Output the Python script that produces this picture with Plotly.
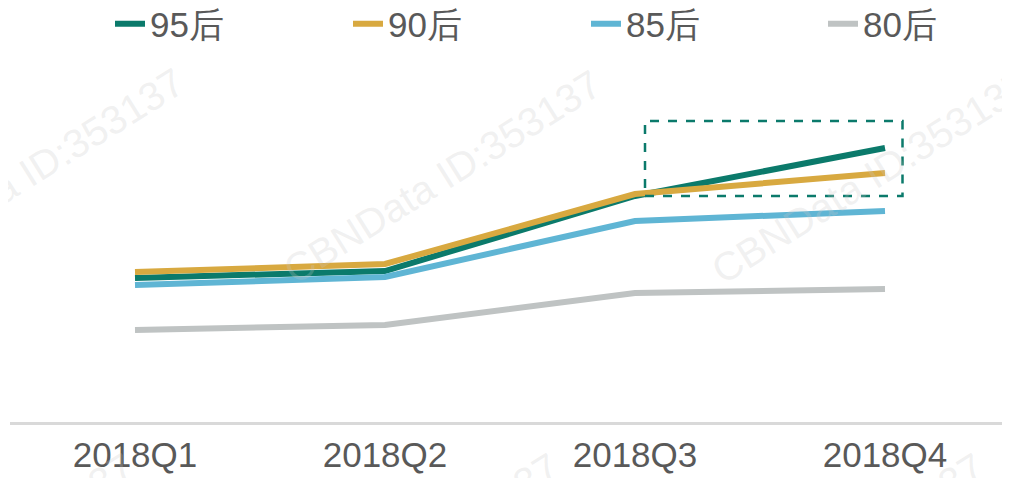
import plotly.graph_objects as go

# quarters on the x axis
quarters = ["2018Q1", "2018Q2", "2018Q3", "2018Q4"]

# index values (no y scale shown in the source)
gen_95 = [144, 151, 226, 274]
gen_90 = [150, 158, 228, 249]
gen_85 = [137, 145, 201, 211]
gen_80 = [92, 97, 129, 133]

series = [
    ("95后", gen_95, "#0b7a6b"),
    ("90后", gen_90, "#d8a940"),
    ("85后", gen_85, "#5fb5d4"),
    ("80后", gen_80, "#bfc3c3"),
]

# page body adds 8px, so the figure is drawn 8px in from the window corner
OFF = 8
W, H = 1010 - OFF, 478 - OFF
ML, MR, MT, MB = 2, 0, 52, 56


def paper(px, py):
    """Convert a pixel position in the window to paper coordinates."""
    fx, fy = px - OFF, py - OFF
    return (fx - ML) / (W - ML - MR), (H - MB - fy) / (H - MT - MB)


fig = go.Figure()
legend_ids = ["legend", "legend2", "legend3", "legend4"]
for (name, vals, color), lid in zip(series, legend_ids):
    fig.add_trace(
        go.Scatter(
            x=quarters,
            y=vals,
            name=name,
            mode="lines",
            line=dict(color=color, width=6),
            legend=lid,
        )
    )

# watermark text, faint and rotated
for cx, cy in [(25, 175), (442, 177), (870, 177), (-25, 560), (400, 560), (825, 560)]:
    x, y = paper(cx, cy)
    fig.add_annotation(
        x=x, y=y, xref="paper", yref="paper",
        xanchor="center", yanchor="middle",
        text="CBNData ID:353137",
        showarrow=False,
        textangle=-32,
        font=dict(family="Liberation Sans, Arial", size=40, color="rgba(200,200,200,0.26)"),
    )

# dashed highlight box around the Q3-Q4 gap
fig.add_shape(
    type="rect",
    xref="x", yref="y",
    x0=2.04, x1=3.07, y0=226, y1=301,
    line=dict(color="#0b7a6b", width=2.5, dash="dash"),
)

# one legend per series so each entry sits where the reference has it
legends = {}
for lid, px in zip(legend_ids, [110, 348, 586, 823]):
    lx, ly = paper(px, 24)
    legends[lid] = dict(
        orientation="h",
        x=lx,
        y=ly,
        xanchor="left",
        yanchor="middle",
        font=dict(size=35, color="#595959"),
        bgcolor="rgba(0,0,0,0)",
    )

fig.update_layout(
    width=W,
    height=H,
    margin=dict(l=ML, r=MR, t=MT, b=MB, autoexpand=False),
    paper_bgcolor="white",
    plot_bgcolor="white",
    font=dict(family="Liberation Sans, Arial", size=35, color="#595959"),
    showlegend=True,
    **legends,
)
fig.update_xaxes(
    range=[-0.5, 3.5],
    showline=True,
    linecolor="#d9d9d9",
    linewidth=2.5,
    showgrid=False,
    ticks="",
    tickfont=dict(size=35, color="#595959"),
    fixedrange=True,
)
fig.update_yaxes(
    range=[0, H - MT - MB],
    visible=False,
    fixedrange=True,
)

fig.write_html("out.html")
